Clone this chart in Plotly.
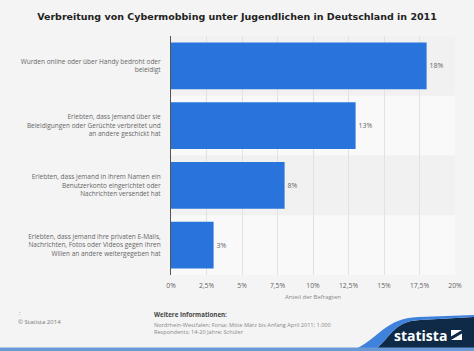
import plotly.graph_objects as go

# ---- data ----
categories = [
    "Wurden online oder über Handy bedroht oder<br>beleidigt",
    "Erlebten, dass jemand über sie<br>Beleidigungen oder Gerüchte verbreitet und<br>an andere geschickt hat",
    "Erlebten, dass jemand in ihrem Namen ein<br>Benutzerkonto eingerichtet oder<br>Nachrichten versendet hat",
    "Erlebten, dass jemand ihre privaten E-Mails,<br>Nachrichten, Fotos oder Videos gegen ihren<br>Willen an andere weitergegeben hat",
]
values = [18, 13, 8, 3]
value_labels = ["18%", "13%", "8%", "3%"]
x_ticks = [0, 2.5, 5, 7.5, 10, 12.5, 15, 17.5, 20]
x_tick_labels = ["0%", "2,5%", "5%", "7,5%", "10%", "12,5%", "15%", "17,5%", "20%"]

title_text = "Verbreitung von Cybermobbing unter Jugendlichen in Deutschland in 2011"
x_title = "Anteil der Befragten"

# ---- layout geometry (pixels) ----
W, H = 474, 351
L, R, T, B = 171, 19, 36, 76
PW, PH = W - L - R, H - T - B


def px(xp):
    return (xp - L) / PW


def py(yp):
    return (H - B - yp) / PH


FONT = "Open Sans"

fig = go.Figure()
fig.add_trace(go.Bar(
    x=values, y=categories, orientation="h",
    marker=dict(color="#2874dc", line=dict(width=0)),
    text=value_labels, textposition="outside", cliponaxis=False,
    textfont=dict(family=FONT, size=7, color="#666666"),
    hoverinfo="skip",
))

shapes = []
# alternating bands
for i, c in enumerate(categories):
    shapes.append(dict(type="rect", xref="paper", yref="y", x0=0, x1=1,
                       y0=i - 0.5, y1=i + 0.5, layer="below", line=dict(width=0),
                       fillcolor="#f1f1f1" if i % 2 == 0 else "#f9f9f9"))

# footer logo: dark wave
dark_path = (f"M {px(372)},{py(352)} C {px(390)},{py(340)} {px(392)},{py(321)} {px(420)},{py(320)} "
             f"L {px(475)},{py(317)} L {px(475)},{py(352)} Z")
shapes.append(dict(type="path", xref="paper", yref="paper", path=dark_path,
                   fillcolor="#0f2a46", line=dict(width=0), layer="above"))
blue_path = (f"M {px(350)},{py(352)} C {px(378)},{py(340)} {px(385)},{py(318)} {px(418)},{py(317)} "
             f"L {px(475)},{py(315)} L {px(475)},{py(317)} L {px(420)},{py(320)} "
             f"C {px(392)},{py(321)} {px(390)},{py(340)} {px(372)},{py(352)} Z")
shapes.append(dict(type="path", xref="paper", yref="paper", path=blue_path,
                   fillcolor="#3f82dc", line=dict(width=0), layer="above"))
# bottom strip
shapes.append(dict(type="rect", xref="paper", yref="paper", x0=px(-2), x1=px(476),
                   y0=py(352), y1=py(347.5), fillcolor="#6a9ad6", line=dict(width=0), layer="above"))
# logo icon
shapes.append(dict(type="rect", xref="paper", yref="paper", x0=px(451), x1=px(462),
                   y0=py(340), y1=py(330), fillcolor="white", line=dict(width=0), layer="above"))
icon_path = (f"M {px(451)},{py(340)} L {px(451)},{py(336.5)} L {px(462)},{py(330)} "
             f"L {px(462)},{py(333.5)} Z")
shapes.append(dict(type="path", xref="paper", yref="paper", path=icon_path,
                   fillcolor="#0f2a46", line=dict(width=0), layer="above"))

annotations = [
    dict(text="statista", x=px(449), y=py(335), xref="paper", yref="paper",
         xanchor="right", yanchor="middle", showarrow=False,
         font=dict(family=FONT, size=14, color="white", weight="bold")),
    dict(text=":", x=px(17), y=py(313), xref="paper", yref="paper",
         xanchor="left", yanchor="middle", showarrow=False,
         font=dict(family=FONT, size=5.5, color="#777777")),
    dict(text="© Statista 2014", x=px(16), y=py(322), xref="paper", yref="paper",
         xanchor="left", yanchor="middle", showarrow=False,
         font=dict(family=FONT, size=6, color="#777777")),
    dict(text="<b>Weitere Informationen:</b>", x=px(152), y=py(314), xref="paper", yref="paper",
         xanchor="left", yanchor="middle", showarrow=False,
         font=dict(family=FONT, size=6.2, color="#444444")),
    dict(text="Nordrhein-Westfalen; Forsa; Mitte März bis Anfang April 2011; 1.000<br>Respondents; 14-20 Jahre; Schüler",
         x=px(152), y=py(319), xref="paper", yref="paper", align="left",
         xanchor="left", yanchor="top", showarrow=False,
         font=dict(family=FONT, size=5.6, color="#888888")),
]

fig.update_layout(
    width=W, height=H,
    margin=dict(l=L, r=R, t=T, b=B, pad=0, autoexpand=False),
    paper_bgcolor="#f4f4f4", plot_bgcolor="rgba(0,0,0,0)",
    showlegend=False,
    bargap=0.22,
    title=dict(text=f"<b>{title_text}</b>", x=0.5, xref="container", xanchor="center",
               y=1 - 17 / H, yref="container", yanchor="middle",
               font=dict(family="DejaVu Sans", size=9.5, color="#222222")),
    xaxis=dict(range=[0, 20], tickmode="array", tickvals=x_ticks, ticktext=x_tick_labels,
               showgrid=True, gridcolor="#e2e2e2", gridwidth=1, zeroline=False,
               showline=False, ticks="outside", ticklen=4, tickcolor="rgba(0,0,0,0)",
               fixedrange=True, automargin=False,
               tickfont=dict(family=FONT, size=6.8, color="#666666"),
               title=dict(text=x_title, standoff=5,
                          font=dict(family=FONT, size=6, color="#888888"))),
    yaxis=dict(autorange="reversed", showgrid=False, showline=True, automargin=False,
               linecolor="#555555", linewidth=1, ticks="outside", ticklen=8,
               tickcolor="rgba(0,0,0,0)",
               tickfont=dict(family=FONT, size=6.5, color="#666666")),
    shapes=shapes, annotations=annotations,
)

fig.write_html("out.html")
